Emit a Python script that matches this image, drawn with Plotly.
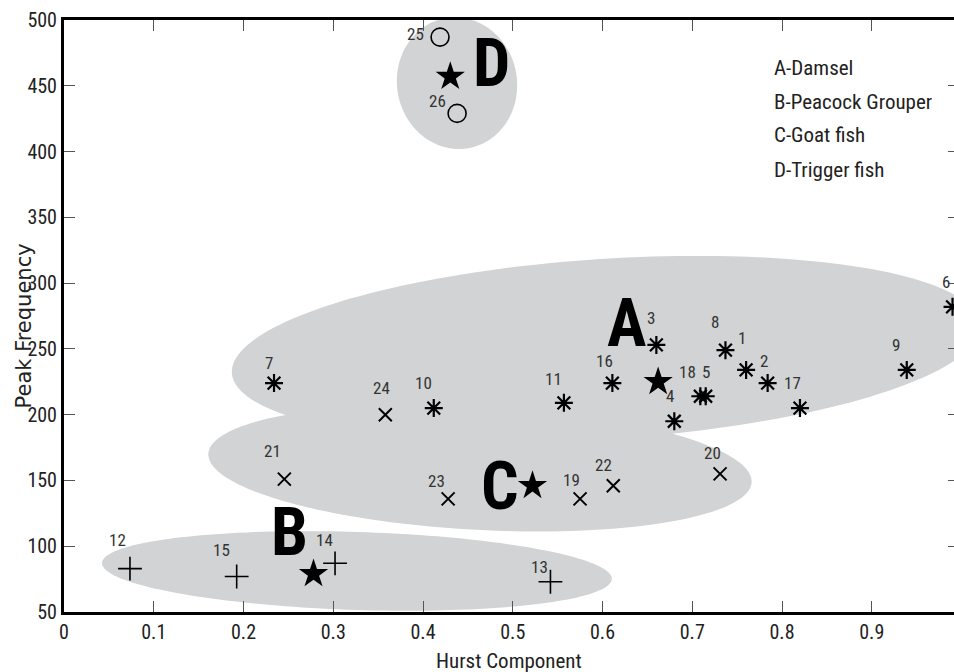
import numpy as np
import plotly.graph_objects as go

# ---------------- data ----------------
# A - Damsel (asterisk)
damsel_ids = [1, 2, 3, 4, 5, 6, 7, 8, 9, 10, 11, 16, 17, 18]
damsel_x = [0.760, 0.784, 0.660, 0.680, 0.715, 0.990, 0.234, 0.737, 0.939, 0.412, 0.557, 0.611, 0.820, 0.709]
damsel_y = [234, 224, 253, 195, 214, 282, 224, 249, 234, 205, 209, 224, 205, 214]
# B - Peacock Grouper (plus)
grouper_ids = [12, 13, 14, 15]
grouper_x = [0.0735, 0.542, 0.302, 0.1924]
grouper_y = [83, 73, 87, 77]
# C - Goat fish (x)
goat_ids = [19, 20, 21, 22, 23, 24]
goat_x = [0.575, 0.731, 0.2455, 0.612, 0.428, 0.358]
goat_y = [136, 155, 151, 146, 136, 200]
# D - Trigger fish (circle)
trigger_ids = [25, 26]
trigger_x = [0.419, 0.438]
trigger_y = [487, 429]
# cluster centres (stars)
centre_names = ["A", "B", "C", "D"]
centre_x = [0.662, 0.278, 0.522, 0.4304]
centre_y = [225, 79, 146, 457]

legend_lines = ["A-Damsel", "B-Peacock Grouper", "C-Goat fish", "D-Trigger fish"]
x_tickvals = [0, 0.1, 0.2, 0.3, 0.4, 0.5, 0.6, 0.7, 0.8, 0.9]
x_ticktext = ["0", "0.1", "0.2", "0.3", "0.4", "0.5", "0.6", "0.7", "0.8", "0.9"]
y_tickvals = [50, 100, 150, 200, 250, 300, 350, 400, 450, 500]
y_ticktext = [str(v) for v in y_tickvals]

# ---------------- styling / layout helpers ----------------
W, H = 954, 672
ML, MR, MT, MB = 64, 0, 20, 60
XR = [0, 0.99164]
YR = [50, 500]
sx = (W - ML - MR) / (XR[1] - XR[0])
sy = (H - MT - MB) / (YR[1] - YR[0])

# cluster ellipses: centre (data), semi axes (px), angle (deg, ccw on screen)
ell_cx = [0.604, 0.3264, 0.4635, 0.4379]
ell_cy = [250, 81.2, 159.5, 452]
ell_a = [375, 255, 272, 66]
ell_b = [90, 39, 62, 60]
ell_ang = [3.7, -1.8, -3.0, 100]

# label offsets in px (dx, dy up)
label_off = {
    1: (-4, 32), 2: (-4, 22), 3: (-5, 27), 4: (-4, 25), 5: (0, 24), 6: (-7, 25),
    7: (-5, 20), 8: (-10, 28), 9: (-11, 25), 10: (-10, 25), 11: (-10, 24),
    16: (-8, 22), 17: (-7, 25), 18: (-13, 24), 19: (-9, 19), 20: (-8, 21),
    21: (-12, 28), 22: (-10, 21), 23: (-12, 18), 24: (-4, 27), 12: (-12, 29),
    13: (-11, 15), 14: (-11, 23), 15: (-15, 26), 25: (-25, 3), 26: (-20, 12),
}
letter_x = [0.627, 0.2518, 0.4858, 0.4758]
letter_y = [269.7, 110.8, 145.8, 467.3]

NARROW = "Roboto Condensed, Liberation Sans Narrow, Arial Narrow, DejaVu Sans Condensed, sans-serif"
GREY = "#d1d3d4"

fig = go.Figure()

shapes = []
t = np.linspace(0, 2 * np.pi, 181)
for cx, cy, a, b, ang in zip(ell_cx, ell_cy, ell_a, ell_b, ell_ang):
    th = np.deg2rad(ang)
    dx = a * np.cos(t) * np.cos(th) - b * np.sin(t) * np.sin(th)
    dy = a * np.cos(t) * np.sin(th) + b * np.sin(t) * np.cos(th)
    xs = cx + dx / sx
    ys = cy + dy / sy
    path = "M " + " L ".join(f"{x:.5f},{y:.3f}" for x, y in zip(xs, ys)) + " Z"
    shapes.append(dict(type="path", path=path, xref="x", yref="y",
                       fillcolor=GREY, line=dict(width=0), layer="below"))

fig.add_trace(go.Scatter(x=damsel_x, y=damsel_y, mode="markers", name="Damsel",
                         marker=dict(symbol="asterisk-open", size=15, color="black",
                                     line=dict(width=2.2, color="black"))))
fig.add_trace(go.Scatter(x=goat_x, y=goat_y, mode="markers", name="Goat fish",
                         marker=dict(symbol="x-thin-open", size=13, color="black",
                                     line=dict(width=2, color="black"))))
fig.add_trace(go.Scatter(x=grouper_x, y=grouper_y, mode="markers", name="Peacock Grouper",
                         marker=dict(symbol="cross-thin-open", size=17, color="black",
                                     line=dict(width=1.6, color="black"))))
fig.add_trace(go.Scatter(x=trigger_x, y=trigger_y, mode="markers", name="Trigger fish",
                         marker=dict(symbol="circle-open", size=18, color="black",
                                     line=dict(width=1.6, color="black"))))
fig.add_trace(go.Scatter(x=centre_x, y=centre_y, mode="markers", name="centres",
                         marker=dict(symbol="star", size=22, color="black",
                                     line=dict(width=0))))
# helper trace for right-side ticks
fig.add_trace(go.Scatter(x=[None], y=[None], yaxis="y2", showlegend=False,
                         hoverinfo="skip", mode="markers"))

annotations = []
for ids, xs, ys in [(damsel_ids, damsel_x, damsel_y), (goat_ids, goat_x, goat_y),
                    (grouper_ids, grouper_x, grouper_y), (trigger_ids, trigger_x, trigger_y)]:
    for i, x, y in zip(ids, xs, ys):
        ox, oy = label_off[i]
        annotations.append(dict(x=x, y=y, xref="x", yref="y", text=str(i), showarrow=False,
                                xshift=ox, yshift=oy, font=dict(family=NARROW, size=17, color="#333")))
for name, x, y in zip(centre_names, letter_x, letter_y):
    annotations.append(dict(x=x, y=y, xref="x", yref="y", text=name, showarrow=False,
                            height=52, valign="middle",
                            font=dict(family=NARROW, size=66, color="black", weight="bold")))
leg_y = [463.5, 437.6, 412.5, 385.9]
for txt, y in zip(legend_lines, leg_y):
    annotations.append(dict(x=0.7889, y=y, xref="x", yref="y", text=txt, showarrow=False,
                            xanchor="left", yanchor="middle",
                            font=dict(family=NARROW, size=21, color="#222")))
annotations.append(dict(x=0.5, y=-0.0828, xref="paper", yref="paper", text="Hurst Component",
                        showarrow=False, xanchor="center", yanchor="middle",
                        font=dict(family=NARROW, size=21, color="#222")))
annotations.append(dict(x=-0.0445, y=0.4831, xref="paper", yref="paper", text="Peak Frequency",
                        showarrow=False, xanchor="center", yanchor="middle", textangle=-90,
                        font=dict(family="DejaVu Sans, sans-serif", size=21, color="#222")))

fig.update_layout(
    width=W, height=H, margin=dict(l=ML, r=MR, t=MT, b=MB),
    paper_bgcolor="white", plot_bgcolor="white", showlegend=False,
    shapes=shapes, annotations=annotations,
    xaxis=dict(range=XR, showgrid=False, zeroline=False, showline=True, linecolor="black",
               linewidth=2.5, mirror="ticks", ticks="inside", ticklen=11, tickwidth=1.3,
               tickcolor="#555", tickvals=x_tickvals, ticktext=x_ticktext,
               tickfont=dict(family=NARROW, size=20, color="#222")),
    yaxis=dict(range=YR, showgrid=False, zeroline=False, showline=True, linecolor="black",
               linewidth=3, ticks="inside", ticklen=11, tickwidth=1.3, tickcolor="#555",
               tickvals=y_tickvals, ticktext=y_ticktext,
               tickfont=dict(family=NARROW, size=20, color="#222")),
    yaxis2=dict(range=YR, overlaying="y", side="right", showgrid=False, zeroline=False,
                showline=False, ticks="inside", ticklen=6, tickwidth=1.3, tickcolor="#555",
                tickvals=y_tickvals, showticklabels=False),
)

fig.write_html("out.html")
